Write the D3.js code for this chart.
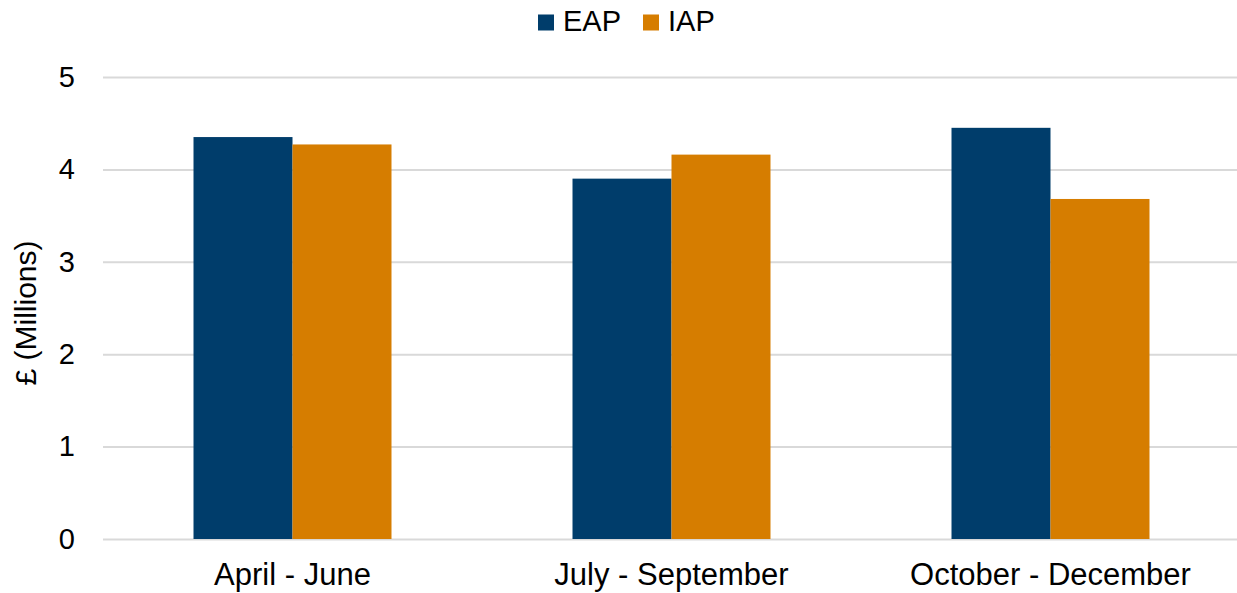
<!DOCTYPE html>
<html>
<head>
<meta charset="utf-8">
<script src="https://cdn.jsdelivr.net/npm/d3@7"></script>
<style>
  body { margin: 0; background: #fff; }
  text { font-family: "Liberation Sans", Arial, sans-serif; fill: #000; }
</style>
</head>
<body>
<div id="chart"></div>
<script>
/* DATA */
const quarters = ["April - June", "July - September", "October - December"];
const seriesNames = ["EAP", "IAP"];
const eapValues = [4.35, 3.90, 4.45];
const iapValues = [4.27, 4.16, 3.68];
const yTicks = [0, 1, 2, 3, 4, 5];
const colors = ["#003d6b", "#d67d00"];

const width = 1237, height = 593;
const margin = { top: 77, bottom: 54, left: 103, right: -3 };

const rows = quarters.map((q, i) => ({ quarter: q, values: [eapValues[i], iapValues[i]] }));

const svg = d3.select("#chart").append("svg")
  .attr("width", width)
  .attr("height", height);

// scales
const xScale = d3.scaleBand()
  .domain(quarters)
  .range([margin.left, width - margin.right])
  .paddingInner(0.4776)
  .paddingOuter(0.2388);

const xSub = d3.scaleBand()
  .domain(seriesNames)
  .range([0, xScale.bandwidth()]);

const yScale = d3.scaleLinear()
  .domain([0, 5])
  .range([height - margin.bottom, margin.top]);

// gridlines + y axis
const yAxis = d3.axisLeft(yScale)
  .tickValues(yTicks)
  .tickSize(-(width - margin.right - margin.left))
  .tickPadding(28)
  .tickFormat(d3.format("d"));

svg.append("g")
  .attr("transform", `translate(${margin.left},0)`)
  .call(yAxis)
  .call(g => g.select(".domain").remove())
  .call(g => g.selectAll(".tick line").attr("stroke", "#d9d9d9").attr("stroke-width", 2))
  .call(g => g.selectAll(".tick text").attr("font-size", 29).attr("fill", "#000"));

// bars
const groups = svg.selectAll("g.group")
  .data(rows)
  .join("g")
  .attr("class", "group")
  .attr("transform", d => `translate(${xScale(d.quarter)},0)`);

groups.selectAll("rect")
  .data(d => d.values.map((v, i) => ({ key: seriesNames[i], value: v, i })))
  .join("rect")
  .attr("x", d => xSub(d.key))
  .attr("width", xSub.bandwidth())
  .attr("y", d => yScale(d.value))
  .attr("height", d => yScale(0) - yScale(d.value))
  .attr("fill", d => colors[d.i]);

// x axis labels
const xAxis = d3.axisBottom(xScale).tickSize(0).tickPadding(24);
svg.append("g")
  .attr("transform", `translate(0,${yScale(0)})`)
  .call(xAxis)
  .call(g => g.select(".domain").remove())
  .call(g => g.selectAll(".tick text").attr("font-size", 31).attr("fill", "#000"));

// y title
svg.append("text")
  .attr("transform", `translate(36,${(yScale(0) + yScale(5)) / 2 + 5}) rotate(-90)`)
  .attr("text-anchor", "middle")
  .attr("font-size", 30)
  .text("£ (Millions)");

// legend
const legendX = [538, 643];
const legend = svg.selectAll("g.legend")
  .data(seriesNames)
  .join("g")
  .attr("class", "legend")
  .attr("transform", (d, i) => `translate(${legendX[i]},14.5)`);

legend.append("rect")
  .attr("width", 16)
  .attr("height", 16)
  .attr("fill", (d, i) => colors[i]);

legend.append("text")
  .attr("x", 25)
  .attr("y", 16)
  .attr("font-size", 29)
  .text(d => d);
</script>
</body>
</html>
